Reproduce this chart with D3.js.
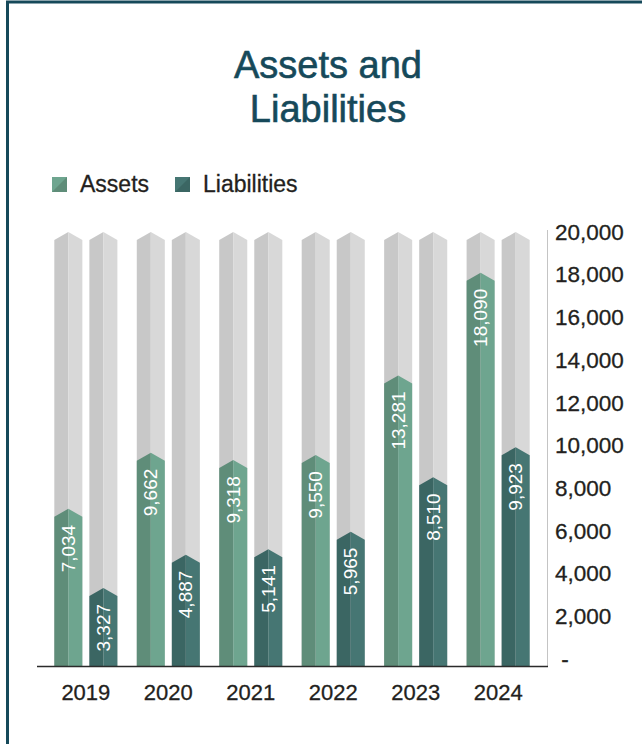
<!DOCTYPE html>
<html>
<head>
<meta charset="utf-8">
<script src="https://cdn.jsdelivr.net/npm/d3@7"></script>
<style>
  html, body { margin: 0; padding: 0; background: #fff; }
  svg { display: block; }
  text { font-family: "Liberation Sans", Arial, Helvetica, sans-serif; }
</style>
</head>
<body>
<svg id="chart" width="642" height="744"></svg>
<script>
// Balance sheet totals by year
const years = ["2019", "2020", "2021", "2022", "2023", "2024"];
const assets = [7034, 9662, 9318, 9550, 13281, 18090];
const liabilities = [3327, 4887, 5141, 5965, 8510, 9923];
const seriesNames = ["Assets", "Liabilities"];
const yTicks = [0, 2000, 4000, 6000, 8000, 10000, 12000, 14000, 16000, 18000, 20000];
const axisMax = 20000;

// Two-tone prism colours: [shaded left face, lit right face]
const faces = {
  Assets: ["#5f8d79", "#6ea58f"],
  Liabilities: ["#3b6663", "#467673"],
  track: ["#c8c8c8", "#d8d8d8"]
};

const svg = d3.select("#chart");
const ink = "#231f20";
const teal = "#16495a";

// Frame: left and top rule
svg.append("path")
  .attr("d", "M7.5,760 V2 H660")
  .attr("fill", "none")
  .attr("stroke", teal)
  .attr("stroke-width", 3);

// Title
const title = svg.append("text")
  .attr("x", 328)
  .attr("text-anchor", "middle")
  .attr("fill", teal)
  .attr("stroke", teal)
  .attr("stroke-width", 0.6)
  .style("font-size", "38px");
title.append("tspan").attr("x", 328).attr("y", 78).text("Assets and");
title.append("tspan").attr("x", 328).attr("y", 122).text("Liabilities");

// Legend
const legend = svg.append("g");
const legendX = [52, 175];
seriesNames.forEach((name, i) => {
  const g = legend.append("g").attr("transform", `translate(${legendX[i]},177)`);
  g.append("path").attr("d", "M0,0 H15 V15 H0 Z").attr("fill", faces[name][1]);
  g.append("path").attr("d", "M0,15 L15,0 V15 Z").attr("fill", faces[name][0]);
  g.append("text")
    .attr("x", 28).attr("y", 15)
    .attr("fill", ink)
    .attr("stroke", ink)
    .attr("stroke-width", 0.3)
    .style("font-size", "23px")
    .text(name);
});

// Scales
const baseline = 666;
const y = d3.scaleLinear().domain([0, axisMax]).range([659, 232]);
const x0 = d3.scaleBand().domain(years).range([37, 547]).paddingInner(0.235).paddingOuter(0.21);
const x1 = d3.scaleBand().domain(seriesNames).range([0, x0.bandwidth()]).paddingInner(0.2);

const rows = years.map((yr, i) => ({ year: yr, Assets: assets[i], Liabilities: liabilities[i] }));
const tip = 8;

function halves(x, w, top) {
  const xc = x + w / 2;
  return [
    `M${x},${baseline} V${top + tip} L${xc},${top} V${baseline} Z`,
    `M${xc},${baseline} V${top} L${x + w},${top + tip} V${baseline} Z`
  ];
}

const groups = svg.append("g").selectAll("g")
  .data(rows)
  .join("g")
  .attr("transform", d => `translate(${x0(d.year)},0)`);

seriesNames.forEach(name => {
  const bx = x1(name), bw = x1.bandwidth();
  // full-height grey track behind each bar
  [0, 1].forEach(k => {
    groups.append("path")
      .attr("d", () => halves(bx, bw, y(axisMax))[k])
      .attr("fill", faces.track[k]);
  });
  // value bar
  [0, 1].forEach(k => {
    groups.append("path")
      .attr("d", d => halves(bx, bw, y(d[name]))[k])
      .attr("fill", faces[name][k]);
  });
  // value label inside the bar, reading upwards
  groups.append("text")
    .attr("transform", d => `translate(${bx + bw / 2},${y(d[name]) + 16}) rotate(-90)`)
    .attr("text-anchor", "end")
    .attr("dominant-baseline", "central")
    .attr("fill", "#ffffff")
    .style("font-size", "19px")
    .style("font-weight", "300")
    .text(d => d3.format(",")(d[name]));
});

// Vertical axis rule
svg.append("line")
  .attr("x1", 547.5).attr("x2", 547.5)
  .attr("y1", 230).attr("y2", baseline)
  .attr("stroke", "#c4c4c4").attr("stroke-width", 1);

// Baseline
svg.append("line")
  .attr("x1", 37).attr("x2", 548)
  .attr("y1", baseline + 0.5).attr("y2", baseline + 0.5)
  .attr("stroke", "#2b2b2b").attr("stroke-width", 1.5);

// Right value axis
const yAxis = d3.axisRight(y)
  .tickValues(yTicks)
  .tickSize(0)
  .tickPadding(0)
  .tickFormat(v => v === 0 ? "\u00a0-" : d3.format(",")(v));
svg.append("g")
  .attr("transform", "translate(555,0)")
  .call(yAxis)
  .call(g => g.select(".domain").remove())
  .call(g => g.selectAll("text")
    .attr("fill", ink)
    .attr("stroke", ink)
    .attr("stroke-width", 0.3)
    .style("font-size", "22.5px")
    .style("font-family", "'Liberation Sans', Arial, sans-serif"));

// Year axis
const xAxis = d3.axisBottom(x0).tickSize(0).tickPadding(0);
svg.append("g")
  .attr("transform", `translate(0,${baseline})`)
  .call(xAxis)
  .call(g => g.select(".domain").remove())
  .call(g => g.selectAll("text")
    .attr("fill", ink)
    .attr("stroke", ink)
    .attr("stroke-width", 0.3)
    .attr("dy", null)
    .attr("y", 34)
    .style("font-size", "22px")
    .style("font-family", "'Liberation Sans', Arial, sans-serif"));
</script>
</body>
</html>
